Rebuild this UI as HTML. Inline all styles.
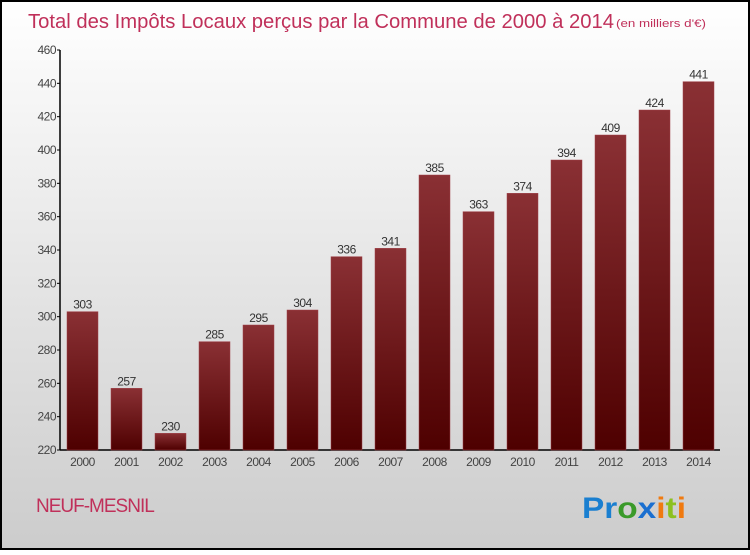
<!DOCTYPE html>
<html><head><meta charset="utf-8"><style>
body{margin:0;width:750px;height:550px;overflow:hidden;font-family:"Liberation Sans",sans-serif}
</style></head><body>
<svg width="750" height="550" xmlns="http://www.w3.org/2000/svg">
<defs>
<linearGradient id="bg" x1="0" y1="0" x2="0" y2="1"><stop offset="0" stop-color="#ffffff"/><stop offset="1" stop-color="#cccccc"/></linearGradient>
<linearGradient id="bar" x1="0" y1="0" x2="0" y2="1"><stop offset="0" stop-color="#8a3034"/><stop offset="1" stop-color="#4e0000"/></linearGradient>
</defs>
<rect x="1" y="1" width="748" height="548" fill="url(#bg)" stroke="#000" stroke-width="2"/>
<text x="28" y="28" font-size="20" fill="#c0305a" textLength="586" lengthAdjust="spacingAndGlyphs">Total des Impôts Locaux perçus par la Commune de 2000 à 2014</text>
<text x="616" y="27" font-size="11" fill="#c0305a" textLength="90" lengthAdjust="spacingAndGlyphs">(en milliers d'€)</text>
<g id="axes"></g>
<g id="bars"></g>
<text x="36" y="512" font-size="19" fill="#c0305a" letter-spacing="-1">NEUF-MESNIL</text>
<text x="582" y="518" font-size="30" font-weight="bold" textLength="104" lengthAdjust="spacingAndGlyphs"><tspan fill="#1a7fd0">Pr</tspan><tspan fill="#3a9a2a">o</tspan><tspan fill="#1a6fd0">x</tspan><tspan fill="#f07a10">i</tspan><tspan fill="#8cc020">t</tspan><tspan fill="#f07a10">i</tspan></text>
</svg>
<script>
const years=["2000","2001","2002","2003","2004","2005","2006","2007","2008","2009","2010","2011","2012","2013","2014"];
const values=[303,257,230,285,295,304,336,341,385,363,374,394,409,424,441];
const yTicks=[220,240,260,280,300,320,340,360,380,400,420,440,460];
const NS="http://www.w3.org/2000/svg";
const x0=60,slot=44,yMin=220,yMax=460,yB=450,yT=50;
const y=v=>yB-(v-yMin)/(yMax-yMin)*(yB-yT);
const xC=i=>x0+slot*i+22.5;
function mk(t,a,p){const e=document.createElementNS(NS,t);for(const k in a)e.setAttribute(k,a[k]);p.appendChild(e);return e;}
const ax=document.getElementById('axes'),bg=document.getElementById('bars');
let l=mk('line',{x1:x0,y1:yT,x2:x0,y2:yB,stroke:'#000','stroke-width':1.5},ax);


l=mk('line',{x1:x0,y1:yB,x2:720,y2:yB,stroke:'#000','stroke-width':1.5},ax);


yTicks.forEach(v=>{
 const t=mk('line',{x1:x0-3,y1:y(v),x2:x0,y2:y(v),stroke:'#000'},ax);
 
 
 const tx=mk('text',{x:x0-4,y:y(v)+4,'font-size':12,fill:'#444','text-anchor':'end','letter-spacing':'-0.5'},ax);
 tx.textContent=v;
 
 
});
values.forEach((v,i)=>{
 const r=mk('rect',{x:xC(i)-15.5,y:y(v),width:31,height:yB-y(v),fill:'url(#bar)',stroke:'#a04048','stroke-width':0.5},bg);
 
 
 const t=mk('text',{x:xC(i),y:y(v)-3,'font-size':12,fill:'#333','text-anchor':'middle','letter-spacing':'-0.5'},bg);
 t.textContent=v;
 
 
 const xl=mk('text',{x:xC(i),y:466,'font-size':12,fill:'#444','text-anchor':'middle','letter-spacing':'-0.5'},bg);
 xl.textContent=years[i];
 
 
});
</script>
</body></html>
